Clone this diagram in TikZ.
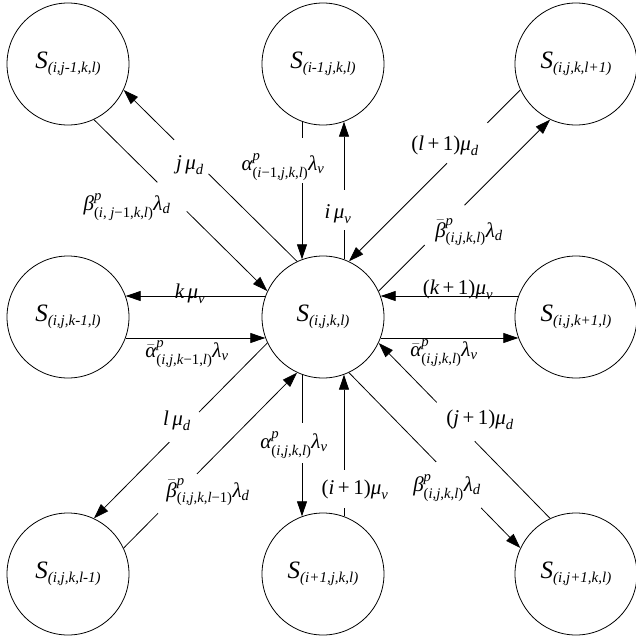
\documentclass[tikz,border=0pt]{standalone}
\usepackage{amsmath}
\usepackage{fontspec}
\setmainfont{Liberation Serif}
\usetikzlibrary{arrows.meta}
\newcommand{\St}[1]{\textit{S}\raisebox{-4pt}{\fontsize{15}{15}\selectfont\textit{#1}}}
\newcommand{\I}[1]{\text{\itshape #1}}
\newcommand{\Sb}[1]{\text{(#1)}}
\begin{document}
\begin{tikzpicture}[x=1pt,y=-1pt,
  state/.style={circle, draw, line width=0.8pt, minimum size=122pt, inner sep=0pt, font=\fontsize{25}{30}\selectfont},
  conn/.style={line width=0.8pt},
  arr/.style={conn, -{Triangle[length=15pt,width=10pt]}},
  cut/.style={fill=white, inner sep=0pt, minimum height=5pt, sloped, minimum width=#1},
  lbl/.style={inner sep=0pt, font=\fontsize{21}{24}\selectfont}]
\useasboundingbox (0,0) rectangle (636,641);
% states
\node[state] (C)  at (323,317) {\St{(i,j,k,l)}};
\node[state] (TL) at (68,64)   {\St{(i,j-1,k,l)}};
\node[state] (T)  at (323,64)  {\St{(i-1,j,k,l)}};
\node[state] (TR) at (576,64)  {\St{(i,j,k,l+1)}};
\node[state] (L)  at (68,317)  {\St{(i,j,k-1,l)}};
\node[state] (R)  at (576,317) {\St{(i,j,k+1,l)}};
\node[state] (BL) at (68,574)  {\St{(i,j,k,l-1)}};
\node[state] (B)  at (323,574) {\St{(i+1,j,k,l)}};
\node[state] (BR) at (576,574) {\St{(i,j+1,k,l)}};
% connectors
\draw[arr] (T.250) -- node[cut=45pt, pos=0.28]{} (C.110);
\draw[arr] (C.70) -- node[cut=40pt, pos=0.36]{} (T.290);
\draw[arr] (C.115) -- node[cut=48pt, pos=0.61]{} (TL.-25);
\draw[arr] (TL.-65) -- node[cut=41pt, pos=0.45]{} (C.155);
\draw[arr] (TR.205) -- node[cut=57pt, pos=0.31]{} (C.65);
\draw[arr] (C.25) -- node[cut=56pt, pos=0.385]{} (TR.245);
\draw[arr] (C.160) -- (L.20);
\draw[arr] (L.-20) -- (C.200);
\draw[arr] (R.160) -- (C.20);
\draw[arr] (C.-20) -- (R.200);
\draw[arr] (C.205) -- node[cut=42pt, pos=0.48]{} (BL.65);
\draw[arr] (BL.25) -- node[cut=55pt, pos=0.31]{} (C.245);
\draw[arr] (C.250) -- node[cut=40pt, pos=0.48]{} (B.110);
\draw[arr] (B.70) -- node[cut=38pt, pos=0.19]{} (C.290);
\draw[arr] (C.-65) -- node[cut=64pt, pos=0.64]{} (BR.155);
\draw[arr] (BR.115) -- node[cut=54pt, pos=0.55]{} (C.-25);
% labels
\node[lbl] (l1)  at (190,165) {$\I{j}\,\I{μ}_{\I{d}}$};
\node[lbl] (l2)  at (127,207) {$\I{β}^{\I{p}}_{\Sb{\textit{i}, \textit{j}−1,\textit{k},\textit{l}}}\I{λ}_{\I{d}}$};
\node[lbl] (l3)  at (283,167) {$\I{α}^{\I{p}}_{\Sb{\textit{i}−1,\textit{j},\textit{k},\textit{l}}}\I{λ}_{\I{v}}$};
\node[lbl] (l4)  at (338,214) {$\I{i}\,\I{μ}_{\I{v}}$};
\node[lbl] (l5)  at (445,146) {$\text{(}\I{l}\,\text{+}\,\text{1)}\I{μ}_{\I{d}}$};
\node[lbl] (l6)  at (469,232) {$\bar{\I{β}}^{\I{p}}_{\Sb{\textit{i},\textit{j},\textit{k},\textit{l}}}\I{λ}_{\I{d}}$};
\node[lbl] (l7)  at (190,294) {$\I{k}\,\I{μ}_{\I{v}}$};
\node[lbl] (l8)  at (187,354) {$\bar{\I{α}}^{\I{p}}_{\Sb{\textit{i},\textit{j},\textit{k}−1,\textit{l}}}\I{λ}_{\I{v}}$};
\node[lbl] (l9)  at (458,290) {$\text{(}\I{k}\,\text{+}\,\text{1)}\I{μ}_{\I{v}}$};
\node[lbl] (l10) at (444,353) {$\bar{\I{α}}^{\I{p}}_{\Sb{\textit{i},\textit{j},\textit{k},\textit{l}}}\I{λ}_{\I{v}}$};
\node[lbl] (l11) at (177,421) {$\I{l}\,\I{μ}_{\I{d}}$};
\node[lbl] (l12) at (208,492) {$\bar{\I{β}}^{\I{p}}_{\Sb{\textit{i},\textit{j},\textit{k},\textit{l}−1}}\I{λ}_{\I{d}}$};
\node[lbl] (l13) at (294,445) {$\I{α}^{\I{p}}_{\Sb{\textit{i},\textit{j},\textit{k},\textit{l}}}\I{λ}_{\I{v}}$};
\node[lbl] (l14) at (355,490) {$\text{(}\I{i}\,\text{+}\,\text{1)}\I{μ}_{\I{v}}$};
\node[lbl] (l15) at (447,488) {$\I{β}^{\I{p}}_{\Sb{\textit{i},\textit{j},\textit{k},\textit{l}}}\I{λ}_{\I{d}}$};
\node[lbl] (l16) at (480,420) {$\text{(}\I{j}\,\text{+}\,\text{1)}\I{μ}_{\I{d}}$};
\end{tikzpicture}
\end{document}
